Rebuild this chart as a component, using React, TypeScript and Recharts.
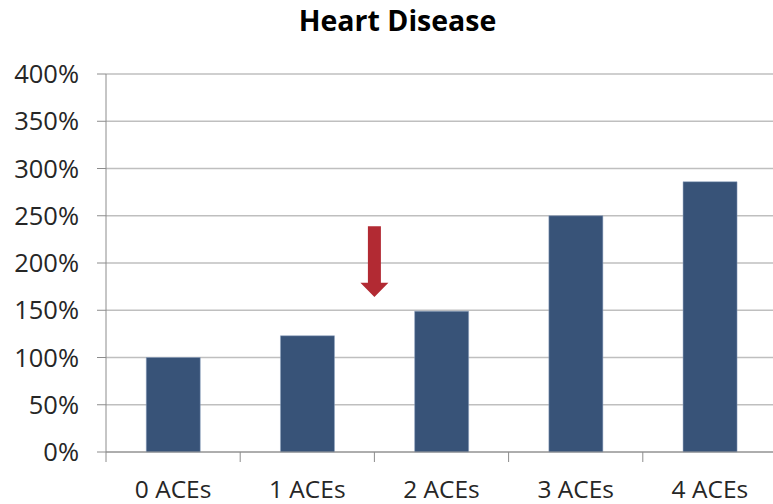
import React from 'react';
import { BarChart, Bar, XAxis, YAxis, CartesianGrid, ReferenceArea } from 'recharts';

const categories = ['0 ACEs', '1 ACEs', '2 ACEs', '3 ACEs', '4 ACEs'];
const riskValues = [100, 123, 149, 250, 286];
const yTicks = [0, 50, 100, 150, 200, 250, 300, 350, 400];

// arrow annotation, sits between "1 ACEs" and "2 ACEs"
const arrowFrom = ['1 ACEs', '2 ACEs'];
const arrowRange = [164, 239];

const chartData = categories.map((name, i) => ({ name, value: riskValues[i] }));

const FONT = '"Open Sans", sans-serif';

// category label plus a tick mark on the left band edge
const CategoryTick = (props: any) => {
  const { x, y, payload } = props;
  const half = payload?.offset ?? 0;
  return (
    <g>
      <line x1={x - half} x2={x - half} y1={y - 8} y2={y + 2} stroke="#8c8c8c" strokeWidth={1} />
      <text x={x} y={y + 38} textAnchor="middle" fontSize={24.5} fill="#262626" fontFamily={FONT}>
        {payload.value}
      </text>
    </g>
  );
};

const Arrow = (props: any) => {
  const { x, y, width, height } = props;
  const cx = x + width / 2;
  const bottom = y + height;
  const head = height * 0.2;
  const shaft = 6.5;
  const wing = 14;
  const pts = [
    [cx - shaft, y],
    [cx + shaft, y],
    [cx + shaft, bottom - head],
    [cx + wing, bottom - head],
    [cx, bottom],
    [cx - wing, bottom - head],
    [cx - shaft, bottom - head],
  ]
    .map((p) => p.join(','))
    .join(' ');
  return <polygon points={pts} fill="#b22a33" />;
};

export default function App() {
  return (
    <div
      style={{
        position: 'absolute',
        left: 0,
        top: 0,
        width: 773,
        height: 504,
        overflow: 'hidden',
        background: '#fff',
      }}
    >
      <div
        style={{
          position: 'absolute',
          left: 0,
          width: 795,
          top: 1,
          textAlign: 'center',
          fontFamily: FONT,
          fontWeight: 700,
          fontSize: 28.5,
          color: '#000',
        }}
      >
        Heart Disease
      </div>
      <BarChart
        width={777}
        height={504}
        data={chartData}
        margin={{ top: 74, right: 0, bottom: 0, left: 0 }}
        barCategoryGap="30%"
        style={{ position: 'absolute', left: 0, top: 0 }}
      >
        <CartesianGrid vertical={false} stroke="#bfbfbf" strokeWidth={1.5} />
        <XAxis
          dataKey="name"
          height={52}
          axisLine={{ stroke: '#8c8c8c' }}
          tickLine={false}
          interval={0}
          tick={<CategoryTick />}
        />
        <YAxis
          width={106}
          domain={[0, 400]}
          ticks={yTicks}
          interval={0}
          tickFormatter={(v: number) => `${v}%`}
          axisLine={{ stroke: '#8c8c8c' }}
          tickLine={{ stroke: '#8c8c8c' }}
          tickSize={9}
          tickMargin={18}
          tick={{ fontSize: 25.5, fill: '#262626', fontFamily: FONT }}
        />
        <Bar dataKey="value" fill="#385378" stroke="#8ea3c0" strokeWidth={0.5} isAnimationActive={false} />
        <ReferenceArea
          x1={arrowFrom[0]}
          x2={arrowFrom[1]}
          y1={arrowRange[0]}
          y2={arrowRange[1]}
          ifOverflow="visible"
          shape={<Arrow />}
        />
      </BarChart>
    </div>
  );
}
